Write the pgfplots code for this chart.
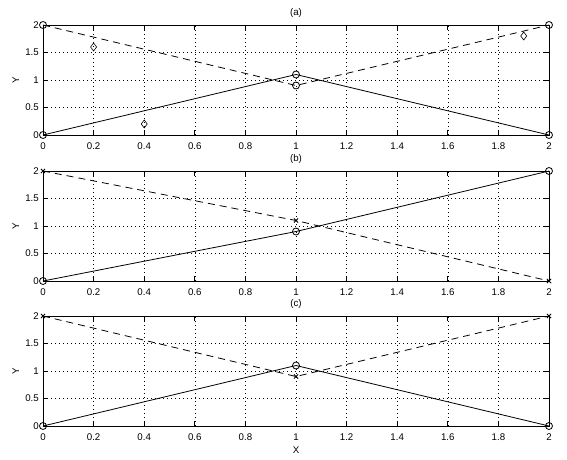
\documentclass[border=0pt]{standalone}
\usepackage{fontspec}
\setmainfont{Liberation Sans}
\usepackage{pgfplots}
\pgfplotsset{compat=1.18}
\begin{document}
\begin{tikzpicture}
\pgfplotsset{
 mystyle/.style={
  scale only axis, width=506pt, height=110pt,
  xmin=0, xmax=2, ymin=0, ymax=2,
  xtick={0,0.2,0.4,0.6,0.8,1,1.2,1.4,1.6,1.8,2},
  ytick={0,0.5,1,1.5,2},
  grid=major,
  major grid style={black, line width=0.6pt, dash pattern=on 1pt off 3pt},
  tick align=inside, major tick length=5pt,
  tick style={black, line width=0.8pt},
  axis line style={black, line width=0.8pt},
  /pgf/number format/assume math mode=true,
  tick label style={font=\fontsize{9.7}{11}\selectfont},
  xticklabel style={inner sep=0pt, anchor=north, yshift=-7.5pt},
  yticklabel style={inner sep=0pt, anchor=east, xshift=-4pt},
  label style={font=\fontsize{9.7}{11}\selectfont},
  ylabel={Y},
  ylabel style={at={(axis description cs:-0.054,0.5)}, anchor=center},
  title style={font=\fontsize{9.7}{11}\selectfont, at={(axis description cs:0.5,1)}, anchor=center, yshift=6pt},
  clip=false,
  anchor=north west,
 },
 solidline/.style={black, line width=0.8pt, mark=o, mark size=3.5pt, mark options={solid}},
 dashline/.style={black, line width=0.8pt, dash pattern=on 7pt off 5pt, mark options={solid}},
}
\path[use as bounding box] (0,0) rectangle (567pt,-460pt);

\begin{axis}[mystyle, at={(43pt,-25pt)}, title={(a)}]
\addplot[solidline] coordinates {(0,0) (1,1.1) (2,0)};
\addplot[dashline, mark=o, mark size=3.5pt] coordinates {(0,2) (1,0.9) (2,2)};
\addplot[only marks, black, mark=diamond, mark size=4pt, line width=0.6pt] coordinates {(0.2,1.6) (0.4,0.2) (1.9,1.8)};
\end{axis}

\begin{axis}[mystyle, at={(43pt,-171pt)}, title={(b)}]
\addplot[solidline] coordinates {(0,0) (1,0.9) (2,2)};
\addplot[dashline, mark=x, mark size=3pt] coordinates {(0,2) (1,1.1) (2,0)};
\end{axis}

\begin{axis}[mystyle, at={(43pt,-316pt)}, title={(c)}, xlabel={X},
  xlabel style={at={(axis description cs:0.5,0)}, anchor=center, yshift=-24pt}]
\addplot[solidline] coordinates {(0,0) (1,1.1) (2,0)};
\addplot[dashline, mark=x, mark size=3pt] coordinates {(0,2) (1,0.9) (2,2)};
\end{axis}
\end{tikzpicture}
\end{document}
